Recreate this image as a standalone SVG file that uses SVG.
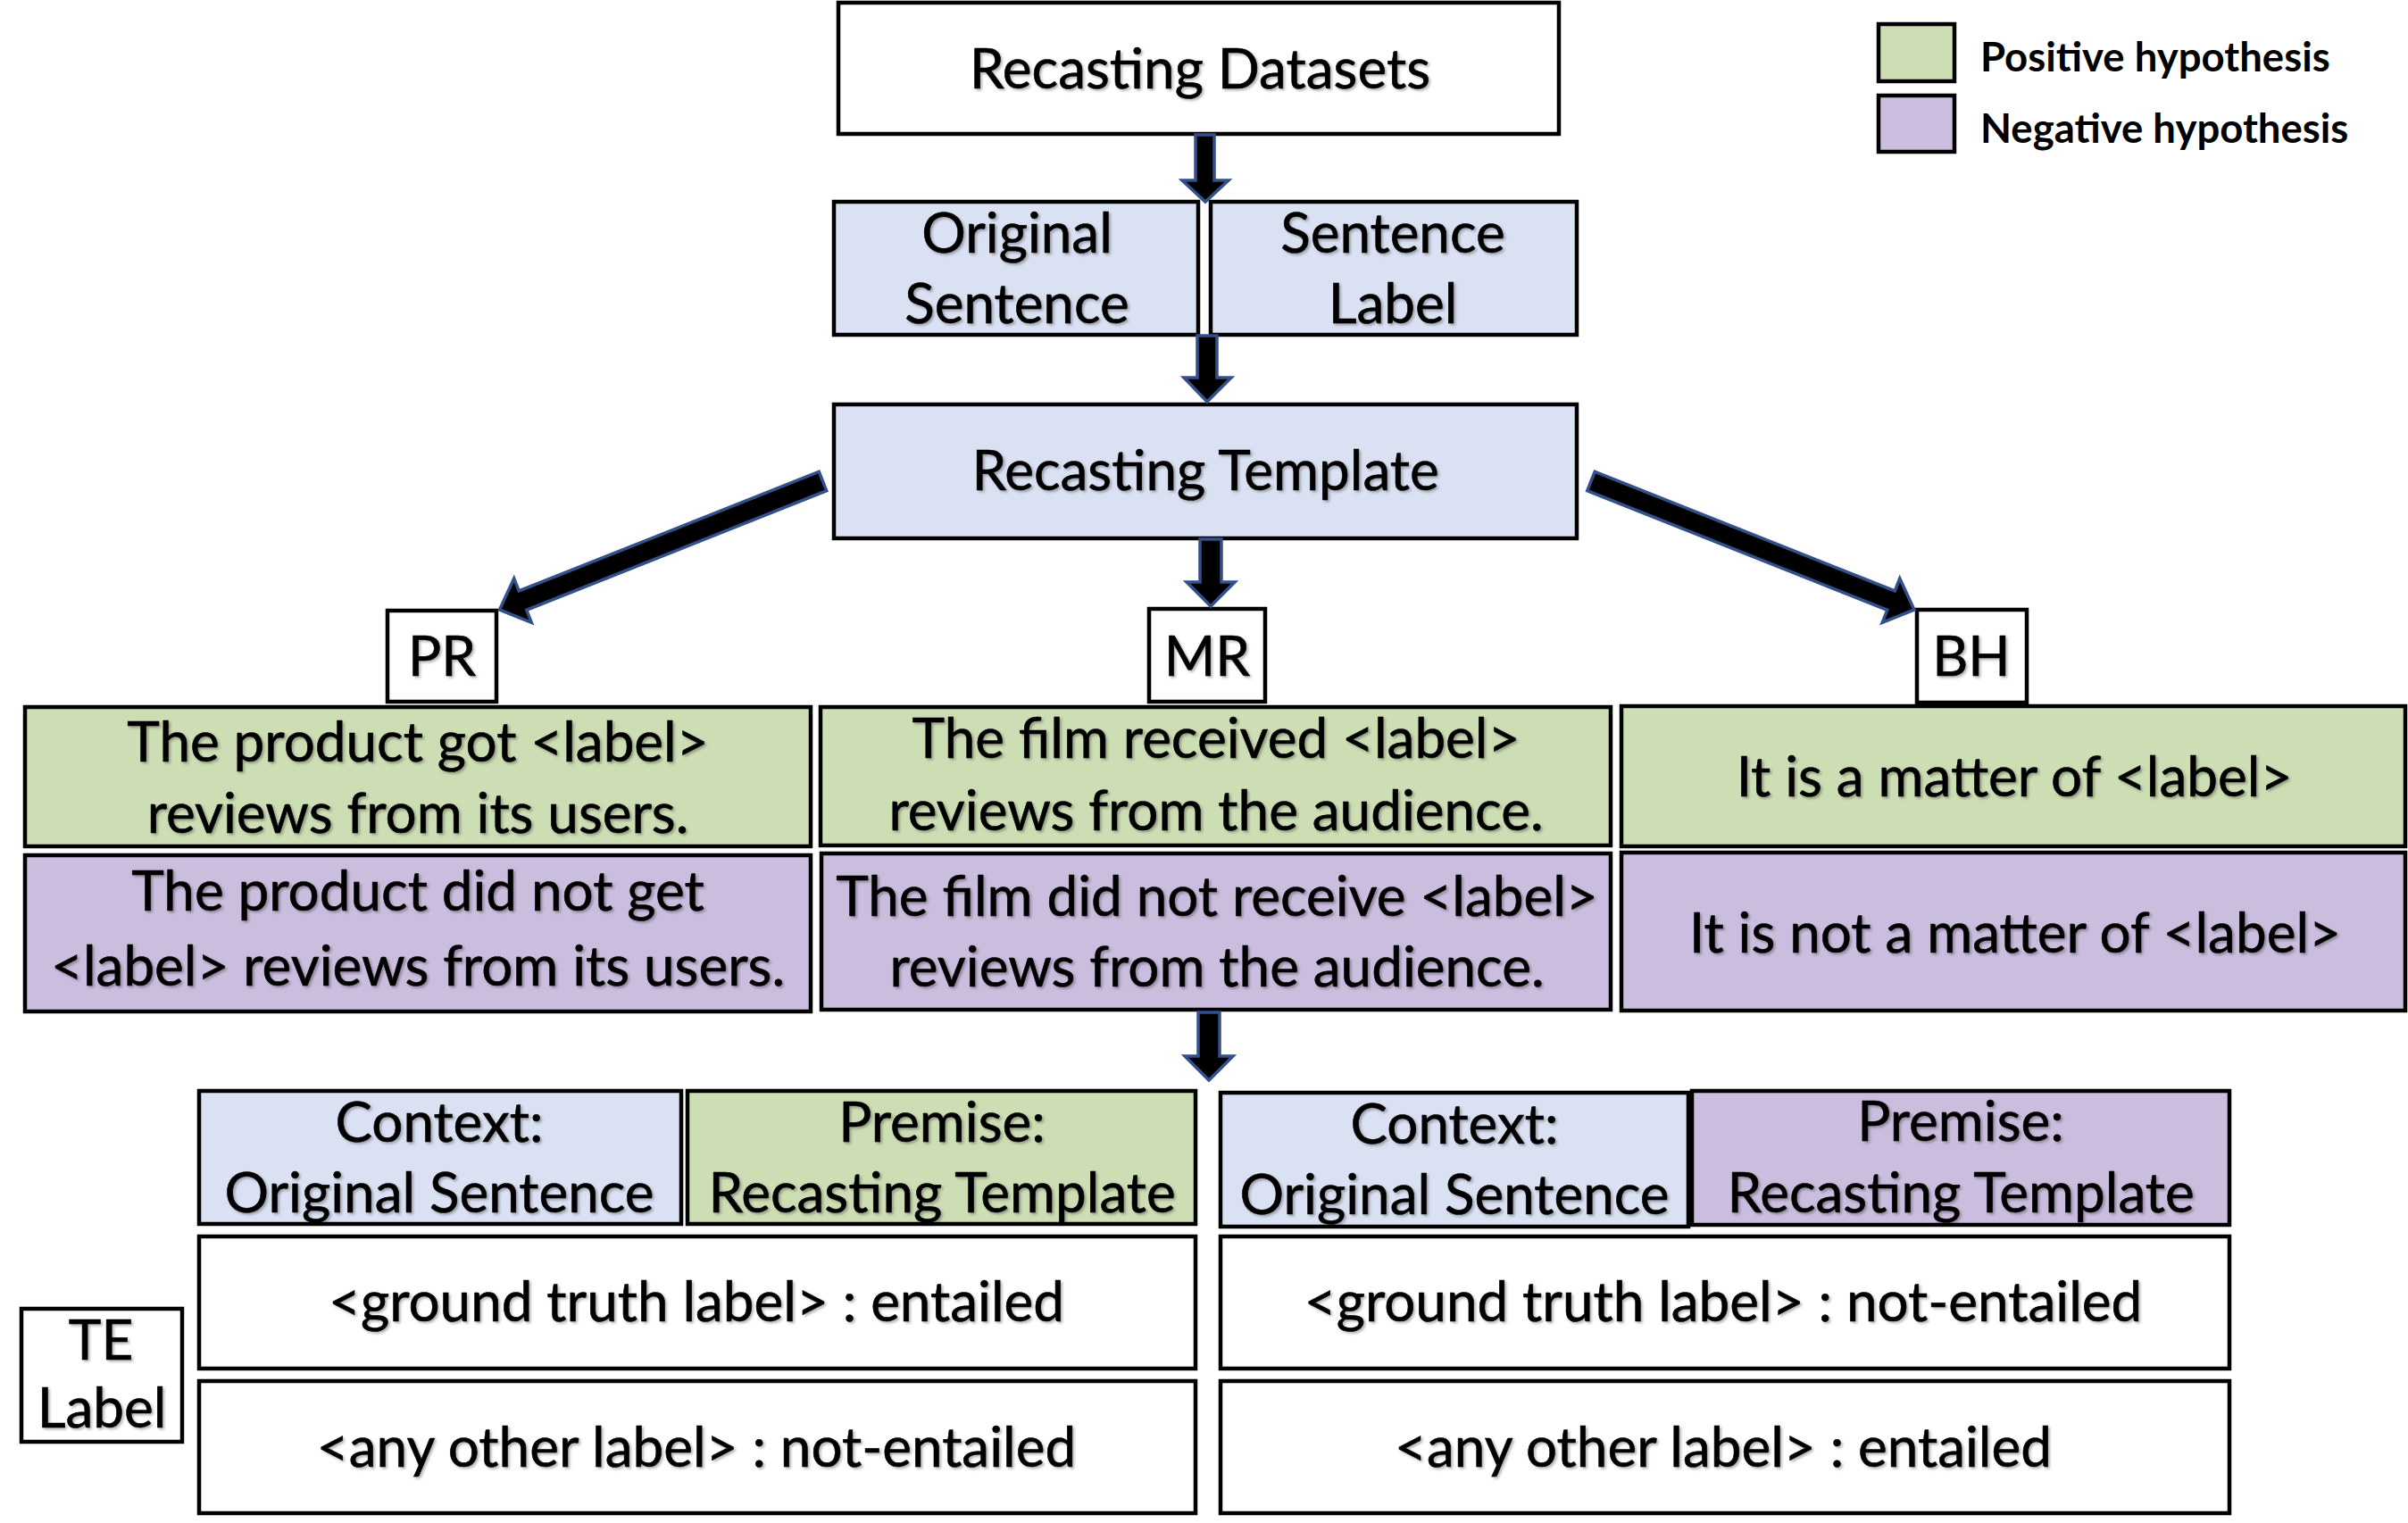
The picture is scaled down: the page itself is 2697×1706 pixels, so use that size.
<svg xmlns="http://www.w3.org/2000/svg" width="2697" height="1706" viewBox="0 0 2697 1706">
<defs>
<filter id="sh" x="-5%" y="-20%" width="110%" height="140%">
<feDropShadow dx="2" dy="2" stdDeviation="1.5" flood-color="#000" flood-opacity="0.3"/>
</filter>
<style>
.box{stroke:#000;stroke-width:4.5}
.w{fill:#fff}
.b{fill:#DAE1F2}
.g{fill:#CDDEB5}
.p{fill:#CBBDDE}
.t{font-family:Lato,"Liberation Sans",sans-serif;font-size:62px;fill:#000;stroke:#000;stroke-width:0.6;text-anchor:middle;filter:url(#sh)}
.lg{font-family:Lato,"Liberation Sans",sans-serif;font-size:45.5px;font-weight:bold;fill:#000}
.arr{fill:#000;stroke:#34508A;stroke-width:3.5;stroke-linejoin:miter}
</style>
</defs>
<rect width="2697" height="1706" fill="#fff"/>

<g id="legend">
<rect class="box g" x="2104" y="27" width="85" height="64" stroke-width="3"/>
<rect class="box p" x="2104" y="107" width="85" height="63" stroke-width="3"/>
<text class="lg" x="2218" y="80">Positive hypothesis</text>
<text class="lg" x="2218" y="160">Negative hypothesis</text>
</g>

<g id="recasting-datasets">
<rect class="box w" x="939" y="3" width="807" height="147"/>
<text class="t" x="1344" y="99">Recasting Datasets</text>
</g>

<g id="original-sentence">
<rect class="box b" x="934" y="226" width="408" height="149"/>
<text class="t" x="1139" y="283">Original</text>
<text class="t" x="1139" y="362">Sentence</text>
</g>

<g id="sentence-label">
<rect class="box b" x="1356" y="226" width="410" height="149"/>
<text class="t" x="1560" y="283">Sentence</text>
<text class="t" x="1560" y="362">Label</text>
</g>

<g id="recasting-template">
<rect class="box b" x="934" y="453" width="832" height="150"/>
<text class="t" x="1350" y="549">Recasting Template</text>
</g>

<g id="pr">
<rect class="box w" x="434" y="684" width="122" height="102" stroke-width="3.5"/>
<text class="t" x="495" y="757">PR</text>
</g>
<g id="mr">
<rect class="box w" x="1287" y="682" width="130" height="104" stroke-width="3.5"/>
<text class="t" x="1352" y="757">MR</text>
</g>
<g id="bh">
<rect class="box w" x="2147" y="683" width="123" height="104" stroke-width="3.5"/>
<text class="t" x="2208" y="757">BH</text>
</g>

<g id="pr-positive">
<rect class="box g" x="28" y="792" width="880" height="156"/>
<text class="t" x="468" y="853">The product got &lt;label&gt;</text>
<text class="t" x="468" y="933">reviews from its users.</text>
</g>
<g id="pr-negative">
<rect class="box p" x="28" y="958" width="880" height="175"/>
<text class="t" x="468" y="1020">The product did not get</text>
<text class="t" x="468" y="1104">&lt;label&gt; reviews from its users.</text>
</g>

<g id="mr-positive">
<rect class="box g" x="919" y="792" width="885" height="155"/>
<text class="t" x="1362" y="849">The film received &lt;label&gt;</text>
<text class="t" x="1362" y="930">reviews from the audience.</text>
</g>
<g id="mr-negative">
<rect class="box p" x="920" y="956" width="884" height="175"/>
<text class="t" x="1363" y="1026">The film did not receive &lt;label&gt;</text>
<text class="t" x="1363" y="1105">reviews from the audience.</text>
</g>

<g id="bh-positive">
<rect class="box g" x="1816" y="791" width="878" height="157"/>
<text class="t" x="2256" y="892">It is a matter of &lt;label&gt;</text>
</g>
<g id="bh-negative">
<rect class="box p" x="1816" y="955" width="878" height="177"/>
<text class="t" x="2257" y="1067">It is not a matter of &lt;label&gt;</text>
</g>

<g id="context-left">
<rect class="box b" x="223" y="1222" width="540" height="149"/>
<text class="t" x="492" y="1279">Context:</text>
<text class="t" x="492" y="1358">Original Sentence</text>
</g>
<g id="premise-left">
<rect class="box g" x="770" y="1222" width="569" height="149"/>
<text class="t" x="1055" y="1279">Premise:</text>
<text class="t" x="1055" y="1358">Recasting Template</text>
</g>
<g id="context-right">
<rect class="box b" x="1367" y="1224" width="524" height="150"/>
<text class="t" x="1629" y="1281">Context:</text>
<text class="t" x="1629" y="1360">Original Sentence</text>
</g>
<g id="premise-right">
<rect class="box p" x="1895" y="1222" width="602" height="150"/>
<text class="t" x="2196" y="1278">Premise:</text>
<text class="t" x="2196" y="1358">Recasting Template</text>
</g>

<g id="te-label">
<rect class="box w" x="24" y="1466" width="180" height="149"/>
<text class="t" x="113" y="1523">TE</text>
<text class="t" x="114" y="1599">Label</text>
</g>

<g id="left-entailed">
<rect class="box w" x="223" y="1385" width="1116" height="148"/>
<text class="t" x="780" y="1480">&lt;ground truth label&gt; : entailed</text>
</g>
<g id="left-not-entailed">
<rect class="box w" x="223" y="1547" width="1116" height="148"/>
<text class="t" x="780" y="1643">&lt;any other label&gt; : not-entailed</text>
</g>
<g id="right-not-entailed">
<rect class="box w" x="1367" y="1385" width="1130" height="148"/>
<text class="t" x="1930" y="1480">&lt;ground truth label&gt; : not-entailed</text>
</g>
<g id="right-entailed">
<rect class="box w" x="1367" y="1547" width="1130" height="148"/>
<text class="t" x="1930" y="1643">&lt;any other label&gt; : entailed</text>
</g>

<g id="connectors">
<polygon class="arr" points="1339,151 1360,151 1360,202 1376,202 1350,226 1324,202 1339,202"/>
<polygon class="arr" points="1341,376 1363,376 1363,423 1379,423 1352,450 1326,423 1341,423"/>
<polygon class="arr" points="1344,604 1368,604 1368,652 1383,652 1356,679 1329,652 1344,652"/>
<polygon class="arr" points="1342,1134 1366,1134 1366,1183 1381,1183 1354,1210 1327,1183 1342,1183"/>
<polygon class="arr" points="1786.25,528.31 2122.25,661.96 2127.79,648.03 2144,683 2108.21,697.27 2113.75,683.34 1777.75,549.69"/>
<polygon class="arr" points="917.25,528.31 581.25,661.96 575.71,648.03 559.5,683 595.29,697.27 589.75,683.34 925.75,549.69"/>
</g>
</svg>
